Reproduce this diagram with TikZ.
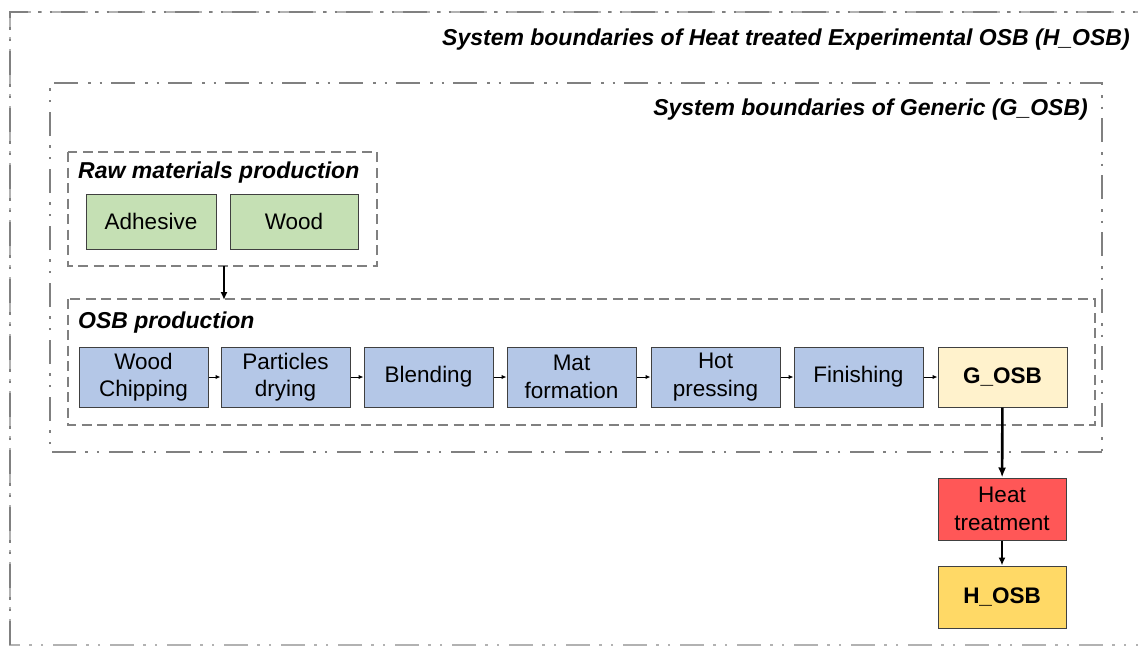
\documentclass[tikz,border=0pt]{standalone}
\usepackage{fontspec}
\setmainfont{Liberation Sans}
\usetikzlibrary{arrows.meta}
\begin{document}
\begin{tikzpicture}[x=1pt,y=-1pt,
  proc/.style={draw=black!75, line width=1pt, minimum width=129pt, minimum height=60pt, inner sep=0pt, align=center, font=\fontsize{22.5}{27.5}\selectfont},
  bndA/.style={draw=black!50, line width=2.6pt, dash pattern=on 24pt off 10pt on 2.5pt off 9pt on 2.5pt off 9pt},
  bndB/.style={draw=black!50, line width=2.8pt, dash pattern=on 10pt off 5.5pt},
  ttl/.style={font=\fontsize{23}{26}\selectfont\bfseries\itshape, inner sep=0pt},
  small/.style={-{Latex[length=5pt,width=4.5pt]}, line width=1pt},
  big/.style={-{Latex[length=10pt,width=8pt]}, line width=2.6pt}
]
\definecolor{cgreen}{HTML}{C5E0B4}
\definecolor{cblue}{HTML}{B4C7E7}
\definecolor{cpale}{HTML}{FFF2CC}
\definecolor{cred}{HTML}{FF5757}
\definecolor{cyel}{HTML}{FFD966}
\useasboundingbox (0,0) rectangle (1138,646);
% boundaries
\draw[bndA, draw=black!30] (1160,645) -- (10,645) -- (10,12) -- (1160,12);
\draw[bndA] (10,645) -- (10,12) -- (1160,12);
\draw[bndA] (1102,452) -- (50,452) -- (50,83) -- (1102,83) -- cycle;
\node[ttl, anchor=east] (t1) at (1130,40) {System boundaries of Heat treated Experimental OSB (H\_OSB)};
\node[ttl, anchor=east] (t2) at (1088,110) {System boundaries of Generic (G\_OSB)};
% raw materials
\draw[bndB] (68,152) rectangle (377,266);
\node[ttl, anchor=west] (t3) at (78,173) {Raw materials production};
\node[proc, fill=cgreen, minimum width=130pt, minimum height=55pt] (adh) at (151,221.5) {Adhesive};
\node[proc, fill=cgreen, minimum width=128pt, minimum height=55pt] (wood) at (294,221.5) {Wood};
% OSB production
\draw[bndB] (68,299) rectangle (1095,425);
\node[ttl, anchor=west] (t4) at (78,323) {OSB production};
\coordinate (rmb) at (224,266);
\coordinate (osbt) at (224,300);
\draw[-{Latex[length=8pt,width=7pt]}, line width=2pt] (rmb) -- (osbt);
\node[proc, fill=cblue] (wc) at (143.5,377) {Wood\\Chipping};
\node[proc, fill=cblue] (pd) at (285.5,377) {Particles\\drying};
\node[proc, fill=cblue] (bl) at (428.5,377) {Blending};
\node[proc, fill=cblue] (mf) at (571.5,377) {Mat\\formation};
\node[proc, fill=cblue] (hp) at (715.5,377) {Hot\\pressing};
\node[proc, fill=cblue] (fi) at (858.5,377) {Finishing};
\node[proc, fill=cpale, font=\fontsize{22.5}{27.5}\selectfont\bfseries] (g) at (1002.5,377) {G\_OSB};
\draw[small] (wc) -- (pd);
\draw[small] (pd) -- (bl);
\draw[small] (bl) -- (mf);
\draw[small] (mf) -- (hp);
\draw[small] (hp) -- (fi);
\draw[small] (fi) -- (g);
\node[proc, fill=cred, minimum width=128pt, minimum height=62pt] (ht) at (1002,509) {Heat\\treatment};
\node[proc, fill=cyel, minimum width=128pt, minimum height=62pt, font=\fontsize{22.5}{27.5}\selectfont\bfseries] (h) at (1002,597) {H\_OSB};
\draw[big] (g) -- (ht);
\draw[-{Latex[length=8pt,width=7pt]}, line width=2pt] (ht) -- (h);
\end{tikzpicture}
\end{document}
